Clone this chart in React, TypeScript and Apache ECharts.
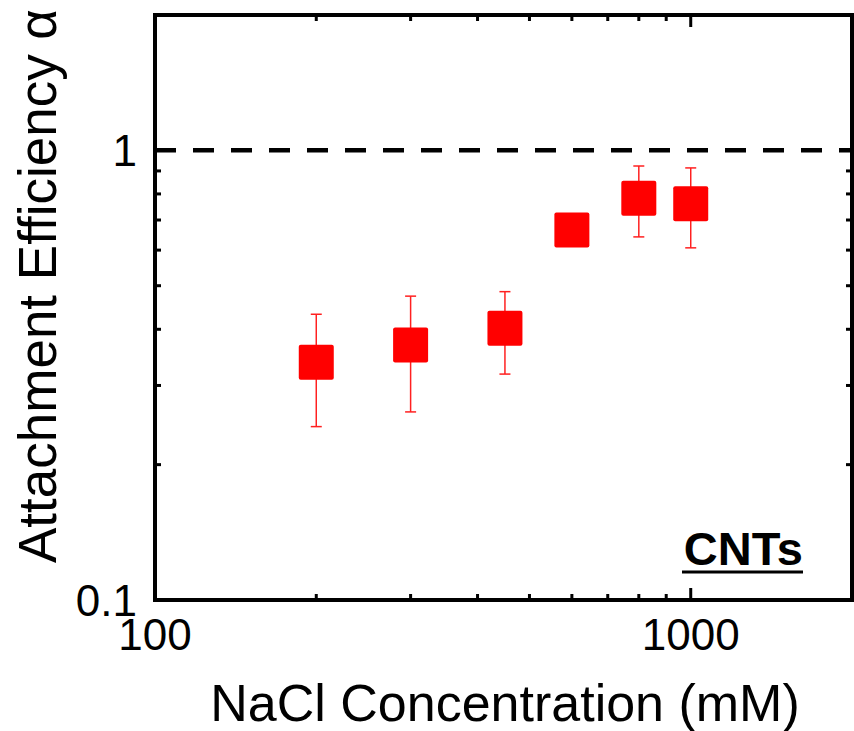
import React, { useEffect, useRef } from "react";
import * as echarts from "echarts";

// NaCl concentration (mM)
const concentrations = [200, 300, 450, 600, 800, 1000];
// attachment efficiency alpha
const alphaValues = [0.338, 0.369, 0.402, 0.665, 0.783, 0.761];
const errLow = [0.243, 0.262, 0.318, 0.645, 0.642, 0.607];
const errHigh = [0.432, 0.474, 0.485, 0.685, 0.923, 0.914];

// axis ticks
const xMinorTicks = [200, 300, 400, 500, 600, 700, 800, 900];
const xMajorTicks = [1000];
const yMinorTicks = [0.2, 0.3, 0.4, 0.5, 0.6, 0.7, 0.8, 0.9];
const yMajorTicks = [1];
const referenceLine = 1;

const FONT = "'Liberation Sans', Arial, Helvetica, sans-serif";
const SQUARE =
  "path://M2,0 H33 Q35,0 35,2 V33 Q35,35 33,35 H2 Q0,35 0,33 V2 Q0,0 2,0 Z";

export default function App() {
  const ref = useRef<HTMLDivElement>(null);

  useEffect(() => {
    if (!ref.current) return;
    const chart = echarts.init(ref.current, undefined, { renderer: "svg" });

    const MINOR = 6;
    const MAJOR = 12;

    const xTickData = [
      ...xMinorTicks.map((v) => [v, 1, MINOR]),
      ...xMajorTicks.map((v) => [v, 1, MAJOR]),
    ];
    const yTickData = [
      ...yMinorTicks.map((v) => [1000, v, MINOR]),
      ...yMajorTicks.map((v) => [1000, v, MAJOR]),
    ];

    const fmt = (v: number) => String(+Number(v).toPrecision(6));

    const option: any = {
      animation: false,
      backgroundColor: "#ffffff",
      grid: {
        left: 155,
        top: 15,
        width: 697,
        height: 585,
        show: true,
        borderColor: "#000",
        borderWidth: 4,
        backgroundColor: "transparent",
      },
      xAxis: {
        type: "log",
        logBase: 10,
        min: 100,
        max: 2000,
        axisLine: { show: false },
        axisTick: { show: false },
        splitLine: { show: false },
        minorTick: { show: false },
        axisLabel: {
          fontSize: 44,
          fontFamily: FONT,
          color: "#000",
          margin: 12,
          showMaxLabel: false,
          formatter: fmt,
        },
      },
      yAxis: {
        type: "log",
        logBase: 10,
        min: 0.1,
        max: 2,
        axisLine: { show: false },
        axisTick: { show: false },
        splitLine: { show: false },
        axisLabel: {
          fontSize: 44,
          fontFamily: FONT,
          color: "#000",
          margin: 18,
          showMaxLabel: false,
          formatter: fmt,
        },
      },
      graphic: [
        {
          type: "text",
          x: 505,
          y: 703,
          style: {
            text: "NaCl Concentration (mM)",
            font: `52px ${FONT}`,
            fill: "#000",
            align: "center",
            verticalAlign: "middle",
          },
        },
        {
          type: "text",
          x: 37,
          y: 286,
          rotation: Math.PI / 2,
          style: {
            text: "Attachment Efficiency α",
            font: `53px ${FONT}`,
            fill: "#000",
            align: "center",
            verticalAlign: "middle",
          },
        },
        {
          type: "text",
          x: 803,
          y: 548,
          style: {
            text: "CNTs",
            font: `bold 47px ${FONT}`,
            fill: "#000",
            align: "right",
            verticalAlign: "middle",
          },
        },
        {
          type: "line",
          shape: { x1: 682, y1: 572, x2: 803, y2: 572 },
          style: { stroke: "#000", lineWidth: 3 },
        },
      ],
      series: [
        {
          type: "line",
          data: [
            [100, referenceLine],
            [2000, referenceLine],
          ],
          symbol: "none",
          silent: true,
          lineStyle: { color: "#000", width: 4.5, type: [21, 17] },
          z: 3,
        },
        {
          type: "custom",
          data: xTickData,
          silent: true,
          z: 4,
          renderItem: (params: any, api: any) => {
            const cs = params.coordSys;
            const px = api.coord([api.value(0), 1])[0];
            const len = api.value(2);
            const bottom = cs.y + cs.height;
            return {
              type: "group",
              children: [
                {
                  type: "line",
                  shape: { x1: px, y1: bottom, x2: px, y2: bottom - len },
                  style: { stroke: "#000", lineWidth: 3 },
                },
                {
                  type: "line",
                  shape: { x1: px, y1: cs.y, x2: px, y2: cs.y + len },
                  style: { stroke: "#000", lineWidth: 3 },
                },
              ],
            };
          },
        },
        {
          type: "custom",
          data: yTickData,
          silent: true,
          z: 4,
          renderItem: (params: any, api: any) => {
            const cs = params.coordSys;
            const py = api.coord([1000, api.value(1)])[1];
            const len = api.value(2);
            const right = cs.x + cs.width;
            return {
              type: "group",
              children: [
                {
                  type: "line",
                  shape: { x1: cs.x, y1: py, x2: cs.x + len, y2: py },
                  style: { stroke: "#000", lineWidth: 3 },
                },
                {
                  type: "line",
                  shape: { x1: right, y1: py, x2: right - len, y2: py },
                  style: { stroke: "#000", lineWidth: 3 },
                },
              ],
            };
          },
        },
        {
          type: "custom",
          data: concentrations.map((c, i) => [c, errLow[i], errHigh[i]]),
          silent: true,
          z: 5,
          renderItem: (params: any, api: any) => {
            const x = api.value(0);
            const lo = api.coord([x, api.value(1)]);
            const hi = api.coord([x, api.value(2)]);
            const cap = 5.5;
            const st = { stroke: "#ff2020", lineWidth: 1.5 };
            return {
              type: "group",
              children: [
                { type: "line", shape: { x1: lo[0], y1: lo[1], x2: hi[0], y2: hi[1] }, style: st },
                { type: "line", shape: { x1: lo[0] - cap, y1: lo[1], x2: lo[0] + cap, y2: lo[1] }, style: st },
                { type: "line", shape: { x1: hi[0] - cap, y1: hi[1], x2: hi[0] + cap, y2: hi[1] }, style: st },
              ],
            };
          },
        },
        {
          type: "scatter",
          data: concentrations.map((c, i) => [c, alphaValues[i]]),
          symbol: SQUARE,
          symbolSize: 35,
          itemStyle: { color: "#ff0000", opacity: 1 },
          z: 6,
        },
      ],
    };

    chart.setOption(option);
    return () => chart.dispose();
  }, []);

  return (
    <div
      ref={ref}
      style={{ position: "fixed", left: 0, top: 0, width: 854, height: 731 }}
    />
  );
}
